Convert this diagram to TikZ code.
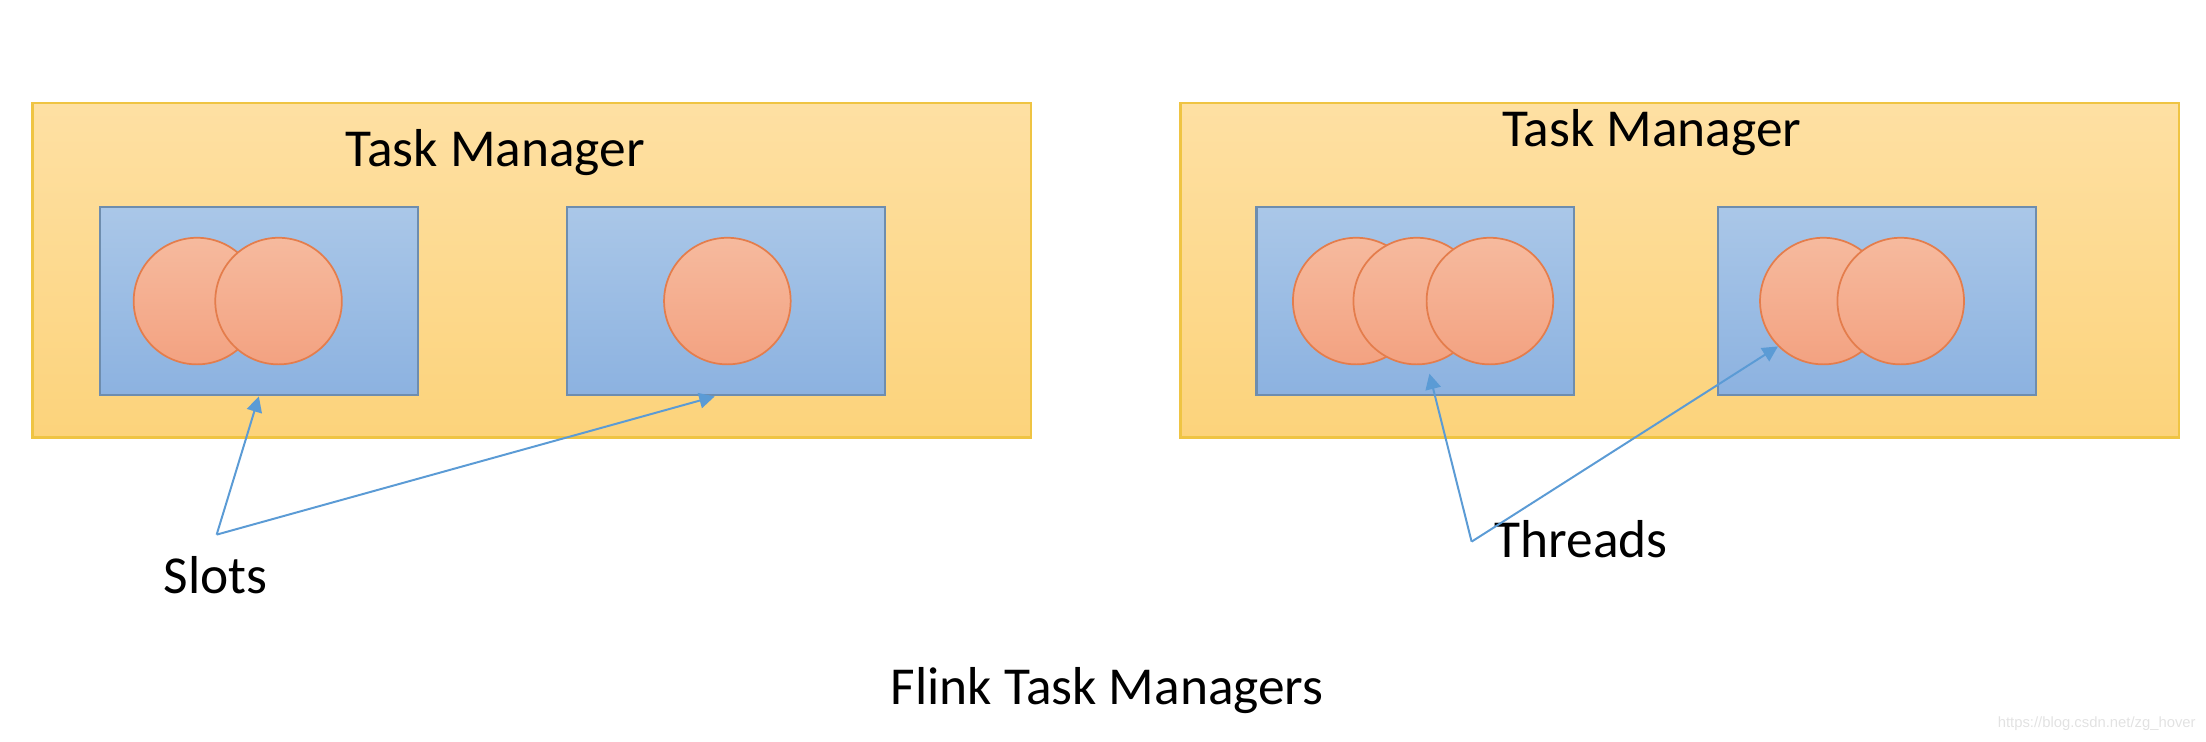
\documentclass[tikz,border=0pt]{standalone}
\usepackage{fontspec}
\setmainfont{Carlito}
\setsansfont{Liberation Sans}
\usetikzlibrary{arrows.meta}

\definecolor{tmtop}{HTML}{FEE0A3}
\definecolor{tmbot}{HTML}{FCD37B}
\definecolor{tmline}{HTML}{EFC443}
\definecolor{slottop}{HTML}{AAC7E8}
\definecolor{slotbot}{HTML}{8CB2E0}
\definecolor{slotline}{HTML}{6E8DAE}
\definecolor{thrtop}{HTML}{F6BA9E}
\definecolor{thrbot}{HTML}{F3A281}
\definecolor{thrline}{HTML}{E47D4C}
\definecolor{arrowblue}{HTML}{5B9BD5}
\definecolor{wmgray}{HTML}{E2E2E2}

\tikzset{
  manager/.style={draw=tmline, line width=0.9pt, top color=tmtop, bottom color=tmbot,
    minimum width=14.2cm, minimum height=4.76cm, inner sep=0pt},
  slotbox/.style={draw=slotline, line width=0.9pt, top color=slottop, bottom color=slotbot,
    minimum width=4.52cm, minimum height=2.68cm, inner sep=0pt},
  thread/.style={circle, draw=thrline, line width=0.7pt, top color=thrtop, bottom color=thrbot,
    minimum size=1.8cm, inner sep=0pt},
  pointer/.style={-{Triangle[length=2.2mm,width=2.2mm]}, draw=arrowblue, line width=0.8pt},
  txt/.style={font=\fontsize{21.6}{26}\selectfont, inner sep=0pt}
}

\begin{document}
\begin{tikzpicture}[x=0.02cm,y=0.02cm]
            \useasboundingbox (0,0) rectangle (1568,-527);

            % Task Manager izquierdo
            \node[manager] (tmL) at (378,-192) {};
            \node[txt, anchor=base] (tmLtitle) at (352,-118) {Task Manager};
            \node[slotbox] (sL1) at (184,-214) {};
            \node[slotbox] (sL2) at (516,-214) {};
            \node[thread] (tL1a) at (140,-214) {};
            \node[thread] (tL1b) at (198,-214) {};
            \node[thread] (tL2a) at (517,-214) {};

            % Task Manager derecho
            \node[manager] (tmR) at (1194,-192) {};
            \node[txt, anchor=base] (tmRtitle) at (1174,-104) {Task Manager};
            \node[slotbox] (sR1) at (1006,-214) {};
            \node[slotbox] (sR2) at (1334,-214) {};
            \node[thread] (tR1a) at (964,-214) {};
            \node[thread] (tR1b) at (1007,-214) {};
            \node[thread] (tR1c) at (1059,-214) {};
            \node[thread] (tR2a) at (1296,-214) {};
            \node[thread] (tR2b) at (1351,-214) {};

            % Etiquetas y flechas
            \node[txt, anchor=base west] (slots) at (116,-422) {Slots};
            \coordinate (slotsTip) at (154,-380);
            \draw[pointer] (slotsTip) -- (sL1.south);
            \draw[pointer] (slotsTip) -- ([xshift=-0.16cm]sL2.south);

            \node[txt, anchor=base west] (threads) at (1062,-396) {Threads};
            \coordinate (threadsTip) at (1046,-385);
            \draw[pointer] (threadsTip) -- ([shift={(0.18cm,-0.12cm)}]tR1b.south);
            \draw[pointer] (threadsTip) -- (tR2a.225);

            % Titulo
            \node[txt, anchor=base] (flink) at (787,-501) {Flink Task Managers};
            \node[anchor=base east, inner sep=0pt, font=\fontsize{6}{7}\sffamily, text=wmgray] (wm) at (1561,-517) {https://blog.csdn.net/zg\_hover};
        \end{tikzpicture}
\end{document}
